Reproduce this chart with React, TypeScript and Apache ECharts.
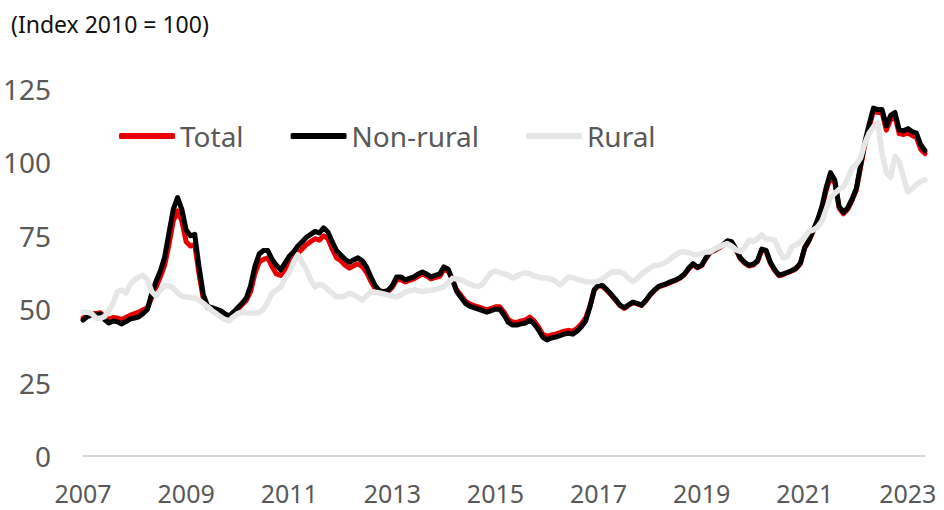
import React, { useEffect, useRef } from "react";
import * as echarts from "echarts";

const TITLE = "(Index 2010 = 100)";
const SERIES_NAMES = ["Total", "Non-rural", "Rural"];
const YEARS = [2007, 2008, 2009, 2010, 2011, 2012, 2013, 2014, 2015, 2016, 2017, 2018, 2019, 2020, 2021, 2022, 2023];
const LAST_MONTHS_2023 = 5;
const Y_TICKS = [0, 25, 50, 75, 100, 125];

const total = [
  47, 48, 48.5, 48.5, 48.8, 47.5, 46.5, 47.2, 47, 46.5, 47.2, 48,
  48.5, 49, 49.8, 50.5, 54, 57.5, 61, 65, 72, 80, 83.5, 80,
  73, 71.5, 72, 62, 53.5, 50.5, 50, 49.5, 49, 48, 47.5, 48.5,
  50, 51.5, 53, 56, 62, 66, 67, 67.5, 64.5, 62, 61.5, 63.5,
  65.5, 67, 69, 70.5, 72, 73, 74, 73.5, 75, 74, 70.5, 67.5,
  66.5, 65, 64, 64.8, 65.5, 64.5, 62.5, 59.5, 57, 55.8, 55.6, 56,
  57.5, 60, 60, 59.3, 59.8, 60.3, 61.2, 62, 61.3, 60.3, 60.8, 61.2,
  63.5, 63, 60, 56.5, 54.7, 52.8, 51.8, 51.2, 50.8, 50.3, 49.8, 50.3,
  50.8, 50.8, 49, 46.5, 45.6, 45.5, 46, 46.3, 47.3, 46, 44, 41.5,
  40.8, 41.2, 41.5, 42, 42.5, 42.8, 42.5, 43.5, 45, 47, 51, 56.5,
  58, 57.7, 56.3, 54.7, 53, 51.2, 50.3, 51.3, 52.2, 51.8, 51.3, 52.8,
  54.8, 56.3, 57.6, 58.1, 58.6, 59.3, 59.8, 60.6, 61.8, 63.7, 65.2, 64.1,
  64.8, 67.3, 69.3, 70, 70.8, 71.8, 73, 72.7, 70.2, 67.2, 65.7, 64.7,
  65, 66.2, 70.2, 69.7, 65.7, 63.2, 61.4, 61.8, 62.4, 63, 63.8, 65.5,
  70.8, 73.3, 76.7, 80.2, 84.5, 90.5, 95, 93, 84.5, 82.5, 84, 87,
  90.5, 98.3, 106, 112, 117.5, 117, 117, 111, 114.5, 115.7, 109.8, 109.5,
  110, 109.2, 108.5, 104.5, 103,
];

const nonRural = [
  46.3, 47.5, 48, 48, 48.4, 46.5, 45.3, 46, 45.7, 45, 45.8, 46.7,
  47, 47.4, 48.5, 50, 55.5, 59.5, 63, 67.8, 76, 84, 88, 84,
  77, 75, 75.5, 64.4, 55, 51, 50.5, 50, 49.5, 48.5, 47.7, 49,
  50.5, 52, 53.8, 58, 64.5, 68.8, 70, 70, 67, 65, 63.4, 65.7,
  68, 69.5, 71.5, 73, 74.5, 75.5, 76.5, 76, 77.7, 76.3, 73, 70,
  68.5, 67, 66, 66.8, 67.5, 66.5, 64.4, 61, 58, 56.3, 56, 56.4,
  58, 61, 61, 60, 60.5, 61, 62, 62.7, 62, 61, 61.5, 62,
  64.4, 63.6, 60, 56, 54, 52, 51, 50.5, 50, 49.5, 49, 49.5,
  50, 50, 48, 45.5, 44.6, 44.6, 45, 45.3, 46.3, 45, 43, 40.5,
  39.5, 40.2, 40.5, 41, 41.5, 41.8, 41.5, 42.5, 44, 46, 50.8, 56.6,
  58.3, 58, 56.6, 55, 53.3, 51.4, 50.5, 51.5, 52.4, 52, 51.4, 53,
  55, 56.5, 57.8, 58.3, 58.8, 59.5, 60, 60.8, 62, 64, 65.5, 64.3,
  65, 67.5, 69.5, 70.2, 71, 72, 73.3, 73, 70.5, 67.5, 66, 65,
  65.3, 66.5, 70.5, 70, 66, 63.5, 61.7, 62, 62.6, 63.2, 64, 65.7,
  71, 73.5, 77, 80.5, 85, 91.5, 96.5, 94, 85, 83, 84.5, 87.5,
  91, 99, 107, 113, 118.5, 118, 118, 112.5, 116, 117, 111, 110.8,
  111.5, 110.5, 110, 106, 104,
];

const rural = [
  49, 49, 48.5, 47, 46.8, 47.5, 49.5, 52, 56, 56.5, 55.5, 58.5,
  60, 61, 61.5, 60, 56, 54.5, 56.5, 58, 58, 57.2, 55.5, 54.5,
  54.2, 54, 53.8, 53, 52, 50.8, 49.5, 48.5, 47.4, 46.5, 46, 47.4,
  48.5, 49, 48.8, 48.7, 48.7, 48.9, 50, 52.5, 55.5, 56.5, 57.5, 60.5,
  62.5, 66, 68.5, 66, 63.5, 60, 57.6, 58.5, 58, 56.6, 55.5, 54.2,
  54.2, 54.5, 55.5, 54.8, 54, 53.1, 54.5, 56, 55.8, 55.5, 55.2, 54.8,
  54.5, 54.2, 54.8, 56, 56.3, 56.6, 56.3, 56, 56.3, 56.5, 56.7, 57.2,
  57.6, 59, 60.5, 60.3, 60, 59.2, 58.5, 58, 57.7, 58.5, 60.6, 62.5,
  63, 62.5, 62, 61.5, 60.6, 61.3, 62, 62.4, 62, 61.3, 61, 60.6,
  60.6, 60.2, 59.5, 58.3, 59.5, 61, 60.8, 60.2, 59.8, 59.3, 59.3, 59.3,
  59.5, 60.5, 61.5, 62.7, 62.7, 62.7, 62, 60.5, 59.5, 60.5, 62, 63,
  64, 65, 65, 65.5, 66.3, 67.5, 68.5, 69.5, 69.5, 69.3, 68.6, 68.5,
  69, 69.5, 69.5, 70.5, 71.2, 71.9, 72.3, 71.5, 70.2, 69.7, 71, 73.5,
  73, 74, 75.3, 74, 73.8, 73.5, 70.2, 67.5, 68, 71.2, 72, 73,
  74.5, 76.5, 77, 78, 80, 84, 88, 89.5, 90.8, 91.6, 94.5, 98,
  99.3, 101.5, 106.5, 110, 112, 113.5, 103, 96.5, 95, 102, 100.2, 95,
  89.9, 91, 92.5, 93.5, 94,
];

const COLORS = ["#e60000", "#000000", "#e6e6e6"];
const TEXT_COLOR = "#595959";
const FONT = "'Noto Sans', 'Open Sans', sans-serif";

function buildMonths(): string[] {
  const out: string[] = [];
  YEARS.forEach((y, i) => {
    const n = i === YEARS.length - 1 ? LAST_MONTHS_2023 : 12;
    for (let m = 1; m <= n; m++) out.push(`${y}-${m < 10 ? "0" + m : m}`);
  });
  return out;
}

export default function App() {
  const ref = useRef<HTMLDivElement>(null);
  useEffect(() => {
    if (!ref.current) return;
    const chart = echarts.init(ref.current, null, { renderer: "svg" });
    const months = buildMonths();
    const data = [total, nonRural, rural];
    chart.setOption({
      animation: false,
      backgroundColor: "#ffffff",
      textStyle: { fontFamily: FONT },
      title: {
        text: TITLE,
        left: 6,
        top: 7,
        textStyle: { color: "#111111", fontSize: 23, fontWeight: "normal", fontFamily: FONT },
      },
      legend: {
        left: 114,
        top: 117,
        itemWidth: 56,
        itemHeight: 6,
        itemGap: 47,
        icon: "roundRect",
        data: SERIES_NAMES,
        textStyle: { color: TEXT_COLOR, fontSize: 28, fontFamily: FONT },
      },
      grid: { left: 76, right: 19, top: 89, bottom: 54 },
      xAxis: {
        type: "category",
        data: months,
        boundaryGap: false,
        axisLine: { lineStyle: { color: "#d9d9d9", width: 2 } },
        axisTick: { show: false },
        axisLabel: {
          interval: 23,
          color: TEXT_COLOR,
          fontSize: 25,
          lineHeight: 25,
          fontFamily: FONT,
          margin: 24,
          formatter: (v: string) => v.slice(0, 4),
        },
        splitLine: { show: false },
      },
      yAxis: {
        type: "value",
        min: Y_TICKS[0],
        max: Y_TICKS[Y_TICKS.length - 1],
        interval: 25,
        axisLine: { show: false },
        axisTick: { show: false },
        splitLine: { show: false },
        axisLabel: { color: TEXT_COLOR, fontSize: 28, fontFamily: FONT, margin: 32 },
      },
      series: SERIES_NAMES.map((name, i) => ({
        name,
        type: "line",
        data: data[i],
        symbol: "none",
        color: COLORS[i],
        lineStyle: { color: COLORS[i], width: i === 2 ? 5.5 : 5, cap: "round", join: "round" },
      })),
    });
    return () => chart.dispose();
  }, []);
  return (
    <div
      ref={ref}
      style={{ position: "fixed", left: 0, top: 0, width: 944, height: 510, background: "#fff" }}
    />
  );
}
